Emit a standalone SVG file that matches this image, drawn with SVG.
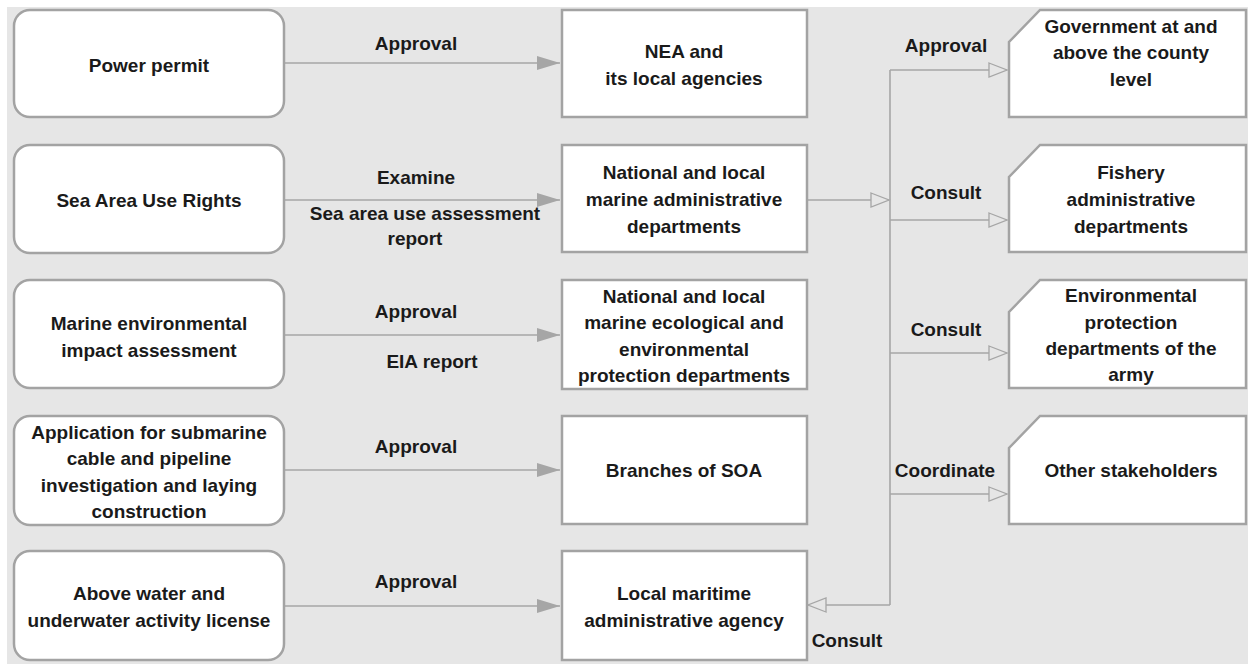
<svg xmlns="http://www.w3.org/2000/svg" width="1255" height="664" viewBox="0 0 1255 664">
<style>
.bg{fill:#e6e6e6}
.lbox{fill:#fff;stroke:#a3a3a3;stroke-width:2.5}
.box{fill:#fff;stroke:#a3a3a3;stroke-width:2.5}
.t{font-family:"Liberation Sans",Arial,sans-serif;font-weight:bold;font-size:19px;fill:#1a1a1a;text-anchor:middle}
.c{fill:none;stroke:#a6a6a6;stroke-width:1.6}
</style>
<defs>
<marker id="af" markerUnits="userSpaceOnUse" markerWidth="24" markerHeight="16" refX="23" refY="7" orient="auto">
<path d="M0,0 L23,7 L0,14 Z" fill="#a6a6a6"/>
</marker>
<marker id="ao" markerUnits="userSpaceOnUse" markerWidth="22" markerHeight="18" refX="19" refY="8" orient="auto">
<path d="M1,1 L19,8 L1,15 Z" fill="#e6e6e6" stroke="#a6a6a6" stroke-width="1.3"/>
</marker>
</defs>
<rect x="0" y="0" width="1255" height="664" fill="#fff"/>
<rect class="bg" x="7" y="7" width="1241" height="657"/>

<g id="connectors">
<path class="c" d="M284,63 L560,63" marker-end="url(#af)"/>
<path class="c" d="M284,200 L560,200" marker-end="url(#af)"/>
<path class="c" d="M284,335 L560,335" marker-end="url(#af)"/>
<path class="c" d="M284,470 L560,470" marker-end="url(#af)"/>
<path class="c" d="M284,606 L560,606" marker-end="url(#af)"/>
<path class="c" d="M807,200 L889,200" marker-end="url(#ao)"/>
<path class="c" d="M890,70 L890,605"/>
<path class="c" d="M890,70 L1007,70" marker-end="url(#ao)"/>
<path class="c" d="M890,220 L1007,220" marker-end="url(#ao)"/>
<path class="c" d="M890,353 L1007,353" marker-end="url(#ao)"/>
<path class="c" d="M890,494 L1007,494" marker-end="url(#ao)"/>
<path class="c" d="M890,605 L808,605" marker-end="url(#ao)"/>
<g id="connector-labels">
<text class="t" x="416" y="50">Approval</text>
<text class="t" x="416" y="184">Examine</text>
<text class="t" x="425" y="220">Sea area use assessment</text>
<text class="t" x="415" y="245">report</text>
<text class="t" x="416" y="318">Approval</text>
<text class="t" x="432" y="368">EIA report</text>
<text class="t" x="416" y="453">Approval</text>
<text class="t" x="416" y="588">Approval</text>
<text class="t" x="946" y="52">Approval</text>
<text class="t" x="946" y="199">Consult</text>
<text class="t" x="946" y="336">Consult</text>
<text class="t" x="945" y="477">Coordinate</text>
<text class="t" x="847" y="647">Consult</text>
</g>
</g>

<g id="power-permit"><rect class="lbox" x="14" y="10" width="270" height="107" rx="16"/>
<text class="t" x="149" y="72">Power permit</text></g>
<g id="sea-area-use-rights"><rect class="lbox" x="14" y="145" width="270" height="108" rx="16"/>
<text class="t" x="149" y="207">Sea Area Use Rights</text></g>
<g id="marine-eia"><rect class="lbox" x="14" y="280" width="270" height="108" rx="16"/>
<text class="t" x="149" y="330">Marine environmental</text>
<text class="t" x="149" y="357">impact assessment</text></g>
<g id="submarine-cable"><rect class="lbox" x="14" y="416" width="270" height="109" rx="16"/>
<text class="t" x="149" y="439">Application for submarine</text>
<text class="t" x="149" y="465">cable and pipeline</text>
<text class="t" x="149" y="492">investigation and laying</text>
<text class="t" x="149" y="518">construction</text></g>
<g id="activity-license"><rect class="lbox" x="14" y="551" width="270" height="109" rx="16"/>
<text class="t" x="149" y="600">Above water and</text>
<text class="t" x="149" y="627">underwater activity license</text></g>

<g id="nea"><rect class="box" x="562" y="10" width="245" height="107"/>
<text class="t" x="684" y="58">NEA and</text>
<text class="t" x="684" y="85">its local agencies</text></g>
<g id="marine-admin"><rect class="box" x="562" y="145" width="245" height="107"/>
<text class="t" x="684" y="179">National and local</text>
<text class="t" x="684" y="206">marine administrative</text>
<text class="t" x="684" y="233">departments</text></g>
<g id="marine-eco"><rect class="box" x="562" y="280" width="245" height="109"/>
<text class="t" x="684" y="303">National and local</text>
<text class="t" x="684" y="329">marine ecological and</text>
<text class="t" x="684" y="356">environmental</text>
<text class="t" x="684" y="382">protection departments</text></g>
<g id="soa"><rect class="box" x="562" y="416" width="245" height="108"/>
<text class="t" x="684" y="477">Branches of SOA</text></g>
<g id="maritime-agency"><rect class="box" x="562" y="551" width="245" height="109"/>
<text class="t" x="684" y="600">Local maritime</text>
<text class="t" x="684" y="627">administrative agency</text></g>

<g id="government"><path class="box" d="M1040,10 L1246,10 L1246,117 L1009,117 L1009,42 Z"/>
<text class="t" x="1131" y="33">Government at and</text>
<text class="t" x="1131" y="59">above the county</text>
<text class="t" x="1131" y="86">level</text></g>
<g id="fishery"><path class="box" d="M1040,145 L1246,145 L1246,252 L1009,252 L1009,177 Z"/>
<text class="t" x="1131" y="179">Fishery</text>
<text class="t" x="1131" y="206">administrative</text>
<text class="t" x="1131" y="233">departments</text></g>
<g id="army-env"><path class="box" d="M1040,280 L1246,280 L1246,388 L1009,388 L1009,312 Z"/>
<text class="t" x="1131" y="302">Environmental</text>
<text class="t" x="1131" y="329">protection</text>
<text class="t" x="1131" y="355">departments of the</text>
<text class="t" x="1131" y="381">army</text></g>
<g id="other-stakeholders"><path class="box" d="M1040,416 L1246,416 L1246,524 L1009,524 L1009,448 Z"/>
<text class="t" x="1131" y="477">Other stakeholders</text></g>
</svg>
